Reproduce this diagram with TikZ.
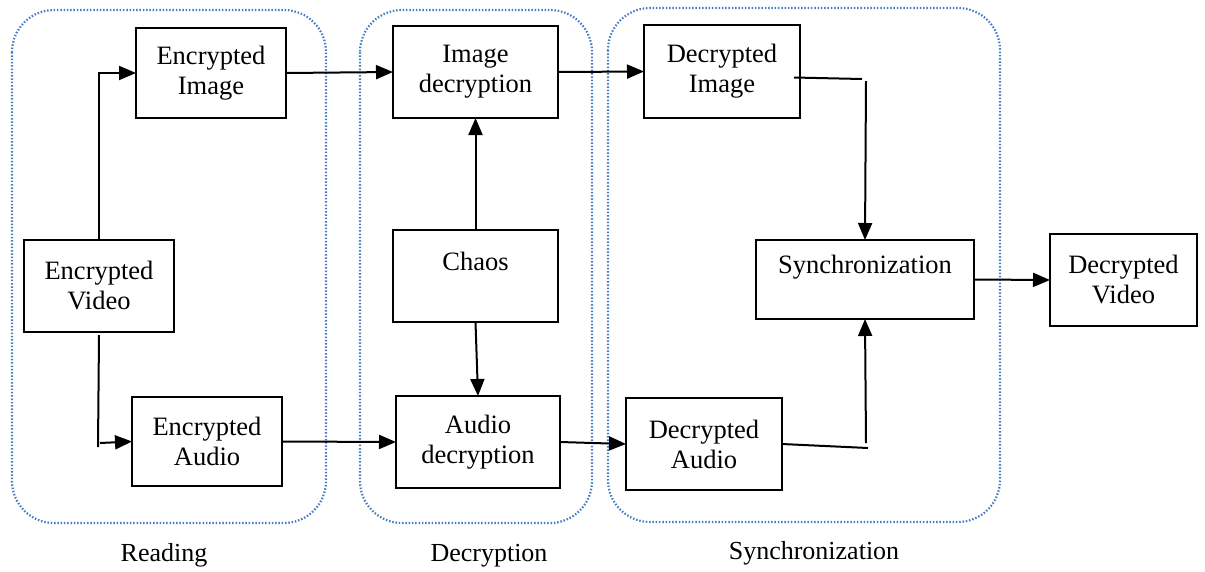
\documentclass[tikz,border=0pt]{standalone}
\usepackage{fontspec}
\setmainfont{Liberation Serif}
\usetikzlibrary{arrows.meta}
\definecolor{groupblue}{RGB}{68,124,196}
\tikzset{
  blockbox/.style={draw=black, line width=2.3pt, fill=white, align=center,
    font=\fontsize{26.5}{30}\selectfont, inner sep=0pt, outer sep=0pt},
  groupframe/.style={draw=groupblue, line width=2.2pt, dash pattern=on 1.5pt off 1.8pt,
    rounded corners=42pt},
  wire/.style={draw=black, line width=2pt},
  arr/.style={wire, -{Triangle[length=17pt,width=14pt]}},
  grouplabel/.style={font=\fontsize{26}{30}\selectfont}
}
\begin{document}
\begin{tikzpicture}[x=1pt, y=-1pt]
\useasboundingbox (0,0) rectangle (1205,571);

% group frames
\draw[groupframe] (12,10) rectangle (326,523);
\draw[groupframe] (360,10) rectangle (592,523);
\draw[groupframe] (608,8) rectangle (1000,522);

% blocks
\node[blockbox, minimum width=150pt, minimum height=90pt] (ei) at (211,73) {Encrypted\\Image};
\node[blockbox, minimum width=150pt, minimum height=92pt] (ev) at (99,286) {Encrypted\\Video};
\node[blockbox, minimum width=150pt, minimum height=89pt] (ea) at (207,441.5) {Encrypted\\Audio};
\node[blockbox, minimum width=165pt, minimum height=92pt] (id) at (475.5,72) {Image\\decryption};
\node[blockbox, minimum width=165pt, minimum height=92pt] (ch) at (475.5,276) {Chaos\\\mbox{}};
\node[blockbox, minimum width=164pt, minimum height=92pt] (ad) at (478,442) {Audio\\decryption};
\node[blockbox, minimum width=156pt, minimum height=93pt] (di) at (722,71.5) {Decrypted\\Image};
\node[blockbox, minimum width=156pt, minimum height=92pt] (da) at (704,444) {Decrypted\\Audio};
\node[blockbox, minimum width=218pt, minimum height=79pt] (sy) at (865,279.5) {Synchronization\\\mbox{}};
\node[blockbox, minimum width=147pt, minimum height=92pt] (dv) at (1123.5,280) {Decrypted\\Video};

% group labels
\node[grouplabel] (lread) at (164,555) {Reading};
\node[grouplabel] (ldec) at (489,556) {Decryption};
\node[grouplabel] (lsync) at (814,553) {Synchronization};

% free ends of the hand-joined connectors
\coordinate (vbot) at (98,447);
\coordinate (vtap) at (100,443);
\coordinate (dicorner) at (862,79);
\coordinate (ditop) at (866,81);
\coordinate (dacorner) at (868,448);
\coordinate (datap) at (866,443);

% connectors
\draw[arr] (ev.north) |- (ei.west);
\draw[wire] ([yshift=-3pt]ev.south) -- (vbot);
\draw[arr] (vtap) -- (ea.west);
\draw[arr] (ei.east) -- (id.west);
\draw[arr] (ea.east) -- (ad.west);
\draw[arr] (ch.north) -- (id.south);
\draw[arr] (ch.south) -- (ad.north);
\draw[arr] (id.east) -- (di.west);
\draw[arr] (ad.east) -- (da.west);
\draw[wire] ([xshift=-6pt,yshift=-6pt]di.east) -- (dicorner);
\draw[arr] (ditop) -- (sy.north);
\draw[wire] (da.east) -- (dacorner);
\draw[arr] (datap) -- (sy.south);
\draw[arr] (sy.east) -- (dv.west);
\end{tikzpicture}
\end{document}
